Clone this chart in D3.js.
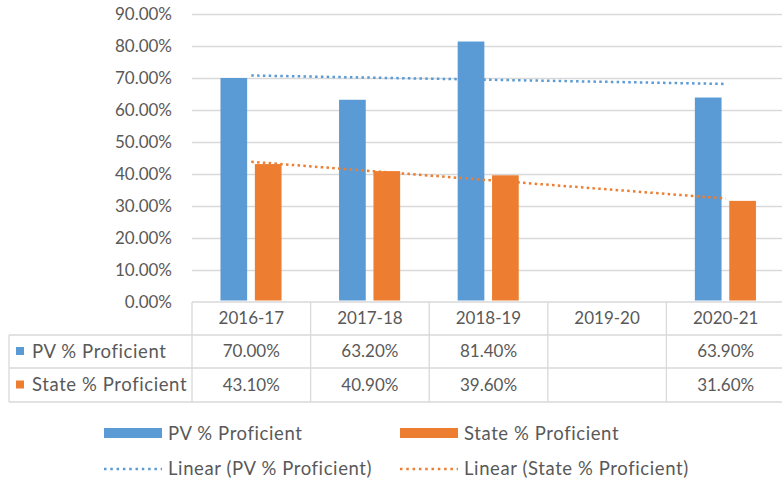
<!DOCTYPE html>
<meta charset="utf-8">
<style>
  body { margin: 0; background: #fff; }
  svg { display: block; }
  text { font-family: Lato, "Open Sans", sans-serif; fill: #595959; }
  .lbl { font-size: 18.5px; letter-spacing: 0.6px; }
  .grid line { stroke: #d9d9d9; stroke-width: 1.3px; }
  .tbl line { stroke: #d9d9d9; stroke-width: 1.3px; }
</style>
<svg width="782" height="486"></svg>
<script src="https://d3js.org/d3.v7.min.js"></script>
<script>
var categories = ["2016-17", "2017-18", "2018-19", "2019-20", "2020-21"];
var pvValues = [70.0, 63.2, 81.4, null, 63.9];
var stateValues = [43.1, 40.9, 39.6, null, 31.6];
var yTicks = [0, 10, 20, 30, 40, 50, 60, 70, 80, 90];
var seriesNames = ["PV % Proficient", "State % Proficient"];
var colors = ["#5b9bd5", "#ed7d31"];

var svg = d3.select("svg");
var fs = 17;

var x = d3.scaleBand().domain(categories).range([192, 192 + 5 * 118.6]);
var y = d3.scaleLinear().domain([0, 90]).range([302, 14]);
var bw = x.bandwidth();

// gridlines
svg.append("g").attr("class", "grid")
  .selectAll("line").data(yTicks.slice(1)).enter().append("line")
    .attr("x1", 192).attr("x2", 782)
    .attr("y1", function(d) { return Math.round(y(d)) + 0.5; })
    .attr("y2", function(d) { return Math.round(y(d)) + 0.5; });

// y tick labels
svg.append("g").selectAll("text").data(yTicks).enter().append("text")
  .attr("x", 172).attr("y", function(d) { return y(d); })
  .attr("dy", "0.35em").attr("text-anchor", "end")
  .style("font-size", fs + "px")
  .text(function(d) { return d3.format(".2f")(d) + "%"; });

// bars
var series = [pvValues, stateValues];
series.forEach(function(vals, si) {
  svg.append("g").selectAll("rect")
    .data(categories.map(function(c, i) { return {c: c, v: vals[i]}; }).filter(function(d) { return d.v != null; }))
    .enter().append("rect")
      .attr("x", function(d) { return x(d.c) + bw * 0.24 + si * bw * 0.29; })
      .attr("width", bw * 0.225)
      .attr("y", function(d) { return y(d.v); })
      .attr("height", function(d) { return y(0) - y(d.v) - 1.5; })
      .attr("fill", colors[si]);
});

// linear trendlines (least squares on category position, blanks skipped)
function trend(vals) {
  var pts = [];
  vals.forEach(function(v, i) { if (v != null) pts.push([i + 1, v]); });
  var mx = d3.mean(pts, function(p) { return p[0]; });
  var my = d3.mean(pts, function(p) { return p[1]; });
  var sxy = d3.sum(pts, function(p) { return (p[0] - mx) * (p[1] - my); });
  var sxx = d3.sum(pts, function(p) { return (p[0] - mx) * (p[0] - mx); });
  var b = sxy / sxx;
  return function(t) { return my + b * (t - mx); };
}
series.forEach(function(vals, si) {
  var f = trend(vals);
  var first = 1, last = categories.length;
  svg.append("line")
    .attr("x1", x(categories[first - 1]) + bw / 2)
    .attr("x2", x(categories[last - 1]) + bw / 2)
    .attr("y1", y(f(first)))
    .attr("y2", y(f(last)))
    .attr("stroke", colors[si])
    .attr("stroke-width", 2.5)
    .attr("stroke-dasharray", "2.5,3.3");
});

// data table
var tbl = svg.append("g").attr("class", "tbl");
var rowY = [302, 335, 368, 402];
tbl.append("line").attr("x1", 192).attr("x2", 782).attr("y1", rowY[0]).attr("y2", rowY[0]);
[1, 2, 3].forEach(function(r) {
  tbl.append("line").attr("x1", 9).attr("x2", 782).attr("y1", rowY[r]).attr("y2", rowY[r]);
});
tbl.append("line").attr("x1", 9).attr("x2", 9).attr("y1", rowY[1]).attr("y2", rowY[3]);
categories.forEach(function(c) {
  tbl.append("line").attr("x1", x(c)).attr("x2", x(c)).attr("y1", rowY[0]).attr("y2", rowY[3]);
});
svg.append("g").selectAll("text").data(categories).enter().append("text")
  .attr("x", function(d) { return x(d) + bw / 2; })
  .attr("y", (rowY[0] + rowY[1]) / 2).attr("dy", "0.35em")
  .attr("text-anchor", "middle").style("font-size", fs + "px")
  .text(function(d) { return d; });
series.forEach(function(vals, si) {
  var cy = (rowY[si + 1] + rowY[si + 2]) / 2;
  svg.append("rect").attr("x", 16).attr("y", cy - 4.5).attr("width", 8).attr("height", 8).attr("fill", colors[si]);
  svg.append("text").attr("class", "lbl").attr("x", 32).attr("y", cy).attr("dy", "0.35em")
    .text(seriesNames[si]);
  svg.append("g").selectAll("text").data(categories.map(function(c, i) { return {c: c, v: vals[i]}; }).filter(function(d) { return d.v != null; }))
    .enter().append("text")
      .attr("x", function(d) { return x(d.c) + bw / 2; })
      .attr("y", cy).attr("dy", "0.35em")
      .attr("text-anchor", "middle").style("font-size", fs + "px")
      .text(function(d) { return d3.format(".2f")(d.v) + "%"; });
});

// legend
var legX = [104, 400];
series.forEach(function(vals, si) {
  svg.append("rect").attr("x", legX[si]).attr("y", 428).attr("width", 58).attr("height", 10).attr("fill", colors[si]);
  svg.append("text").attr("class", "lbl").attr("x", legX[si] + 64).attr("y", 434).attr("dy", "0.35em")
    .text(seriesNames[si]);
  svg.append("line").attr("x1", legX[si]).attr("x2", legX[si] + 58).attr("y1", 469).attr("y2", 469)
    .attr("stroke", colors[si]).attr("stroke-width", 2.5).attr("stroke-dasharray", "2.5,3.8");
  svg.append("text").attr("class", "lbl").attr("x", legX[si] + 64).attr("y", 469).attr("dy", "0.35em")
    .text("Linear (" + seriesNames[si] + ")");
});
</script>
